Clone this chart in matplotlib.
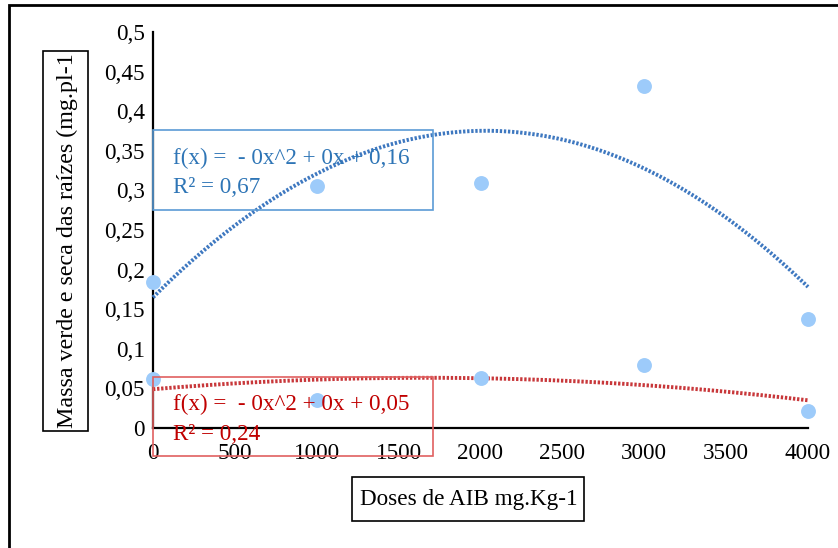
import numpy as np
import matplotlib
matplotlib.use("Agg")
import matplotlib.pyplot as plt
from matplotlib.patches import Rectangle
from matplotlib.ticker import FuncFormatter

plt.rcParams['font.family'] = ['Liberation Serif', 'DejaVu Serif']

doses = [0, 1000, 2000, 3000, 4000]
massa_verde = [0.184, 0.305, 0.309, 0.432, 0.137]
massa_seca = [0.062, 0.035, 0.063, 0.080, 0.022]
eq_verde = ["f(x) =  - 0x^2 + 0x + 0,16", "R² = 0,67"]
eq_seca = ["f(x) =  - 0x^2 + 0x + 0,05", "R² = 0,24"]
xlabel = "Doses de AIB mg.Kg-1"
ylabel = "Massa verde e seca das raízes (mg.pl-1"

W, H = 838, 548
fig = plt.figure(figsize=(W/100, H/100), dpi=100)
ax = fig.add_axes([153/W, 1-428/H, (808-153)/W, (428-32)/H])

def fx(px):
    return px / W
def fy(py):
    return 1 - py / H

FS = 16.7

# outer frame
fig.patches.append(Rectangle((fx(9), fy(560)), fx(840) - fx(9), fy(5) - fy(560),
                             transform=fig.transFigure, fill=False, ec='black', lw=2, zorder=0))

xs = np.array(doses, dtype=float)
xx = np.linspace(0, 4000, 200)
for ys, col in [(massa_verde, '#3E78C0'), (massa_seca, '#C8373A')]:
    c = np.polyfit(xs, ys, 2)
    ax.plot(xx, np.polyval(c, xx), color=col, lw=2.8, linestyle=(0, (0.6, 0.45)), zorder=2,
            solid_capstyle='butt', dash_capstyle='butt')

ax.scatter(doses, massa_verde, s=115, color='#9DCBFA', zorder=3, lw=0)
ax.scatter(doses, massa_seca, s=115, color='#9DCBFA', zorder=3, lw=0)

ax.set_xlim(0, 4000)
ax.set_ylim(0, 0.5)
ax.set_xticks(np.arange(0, 4001, 500))
ax.set_yticks(np.arange(0, 0.501, 0.05))
ax.yaxis.set_major_formatter(FuncFormatter(lambda v, p: ('%g' % round(v, 2)).replace('.', ',')))
for s in ['top', 'right']:
    ax.spines[s].set_visible(False)
for s in ['left', 'bottom']:
    ax.spines[s].set_linewidth(1.6)
    ax.spines[s].set_zorder(1)
ax.tick_params(axis='both', length=0, labelsize=FS)
ax.tick_params(axis='x', pad=11)
ax.tick_params(axis='y', pad=6)
for a in ax.collections + ax.lines:
    a.set_clip_on(False)

# y label box
fig.patches.append(Rectangle((fx(43), fy(431)), fx(88) - fx(43), fy(51) - fy(431),
                             transform=fig.transFigure, fill=False, ec='black', lw=1.2))
yl = fig.text(fx(67), fy(428), ylabel, rotation=90, ha='center', va='bottom', fontsize=17.3)

# x label box
fig.patches.append(Rectangle((fx(352), fy(521)), fx(584) - fx(352), fy(477) - fy(521),
                             transform=fig.transFigure, fill=False, ec='black', lw=1.2))
fig.text(fx(469), fy(499), xlabel, ha='center', va='center', fontsize=FS)

# equation boxes
fig.patches.append(Rectangle((fx(153), fy(210)), fx(433) - fx(153), fy(130) - fy(210),
                             transform=fig.transFigure, fill=False, ec='#5B9BD5', lw=1.2, zorder=5))
fig.text(fx(173), fy(158), eq_verde[0], ha='left', va='center', fontsize=FS, color='#2E75B6')
fig.text(fx(173), fy(187), eq_verde[1], ha='left', va='center', fontsize=FS, color='#2E75B6')

fig.patches.append(Rectangle((fx(153), fy(456)), fx(433) - fx(153), fy(377) - fy(456),
                             transform=fig.transFigure, fill=False, ec='#E06060', lw=1.2, zorder=5))
fig.text(fx(173), fy(404), eq_seca[0], ha='left', va='center', fontsize=FS, color='#C00000')
fig.text(fx(173), fy(434), eq_seca[1], ha='left', va='center', fontsize=FS, color='#C00000')

fig.savefig('out.png', dpi=100)
